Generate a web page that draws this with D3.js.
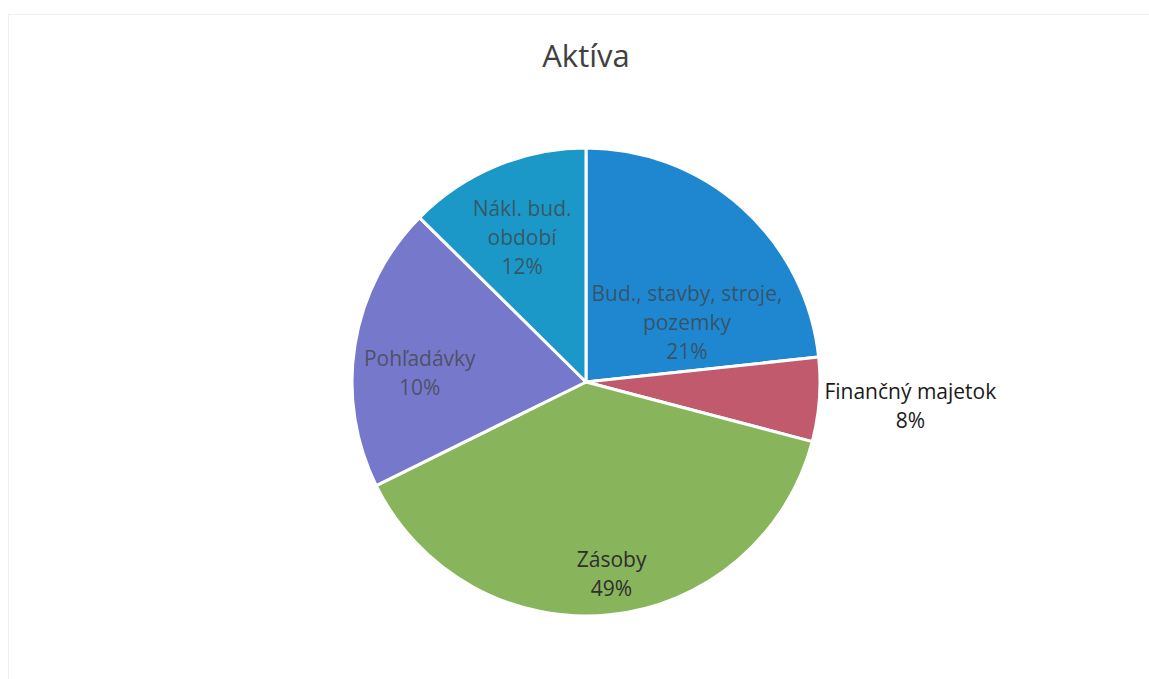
<!DOCTYPE html>
<html>
<head>
<meta charset="utf-8">
<script src="https://cdn.jsdelivr.net/npm/d3@7"></script>
<style>
  body { margin: 0; background: #fff; }
  svg { display: block; }
</style>
</head>
<body>
<svg width="1149" height="679"></svg>
<script>
// slice order clockwise from 12 o'clock
let categories = [
  ["Bud., stavby, stroje,", "pozemky"],
  ["Finančný majetok"],
  ["Zásoby"],
  ["Pohľadávky"],
  ["Nákl. bud.", "období"],
];
// share of the circle as drawn in the picture
let values = [23.3, 5.8, 38.6, 19.7, 12.6];
// percentages as printed on the labels
let pctLabels = ["21%", "8%", "49%", "10%", "12%"];
let colors = ["#1f87d0", "#c05a6c", "#88b45c", "#7679cb", "#1b98c7"];

let svg = d3.select("svg"),
  width = +svg.attr("width"),
  height = +svg.attr("height"),
  cx = 586,
  cy = 382,
  radius = 234;

// faint frame of the chart area
svg.append("rect")
  .attr("x", 8.5).attr("y", 14.5)
  .attr("width", width - 8).attr("height", height)
  .attr("fill", "none")
  .attr("stroke", "#f0f0f0");

svg.append("text")
  .attr("x", cx)
  .attr("y", 67)
  .attr("text-anchor", "middle")
  .attr("font-family", "Open Sans, sans-serif")
  .attr("font-size", 31)
  .attr("fill", "#404040")
  .text("Aktíva");

let pie = d3.pie().sort(null).value(d => d);
let arcs = pie(values);
let arc = d3.arc().innerRadius(0).outerRadius(radius);

let g = svg.append("g").attr("transform", "translate(" + cx + "," + cy + ")");

g.selectAll("path")
  .data(arcs)
  .enter()
  .append("path")
  .attr("d", arc)
  .attr("fill", (d, i) => colors[i])
  .attr("stroke", "#fff")
  .attr("stroke-width", 3)
  .attr("stroke-linejoin", "round");

// labels sit around the slice centroid; the thin slice gets its label outside
let labelArc = d3.arc().innerRadius(radius * 0.62).outerRadius(radius * 0.62);
let outerArc = d3.arc().innerRadius(radius * 1.39).outerRadius(radius * 1.39);
let offsets = [[4, 49], [0, 0], [11, 48], [-23, 14], [-8, -11]];

let lineH = 29;
arcs.forEach((d, i) => {
  let lines = categories[i].concat([pctLabels[i]]);
  let p = i === 1 ? outerArc.centroid(d) : labelArc.centroid(d);
  let x = p[0] + offsets[i][0],
    y = p[1] + offsets[i][1];
  let t = g.append("text")
    .attr("text-anchor", "middle")
    .attr("font-family", "Open Sans, sans-serif")
    .attr("font-size", 21)
    .attr("fill", i === 1 ? "#1a1a1a" : (i === 2 ? "#2e2e2e" : "#404040"))
    .attr("fill-opacity", i === 1 || i === 2 ? 1 : 0.72);
  lines.forEach((l, k) => {
    t.append("tspan")
      .attr("x", x)
      .attr("y", y + k * lineH - (lines.length - 1) * lineH / 2)
      .attr("dy", "0.35em")
      .text(l);
  });
});
</script>
</body>
</html>
